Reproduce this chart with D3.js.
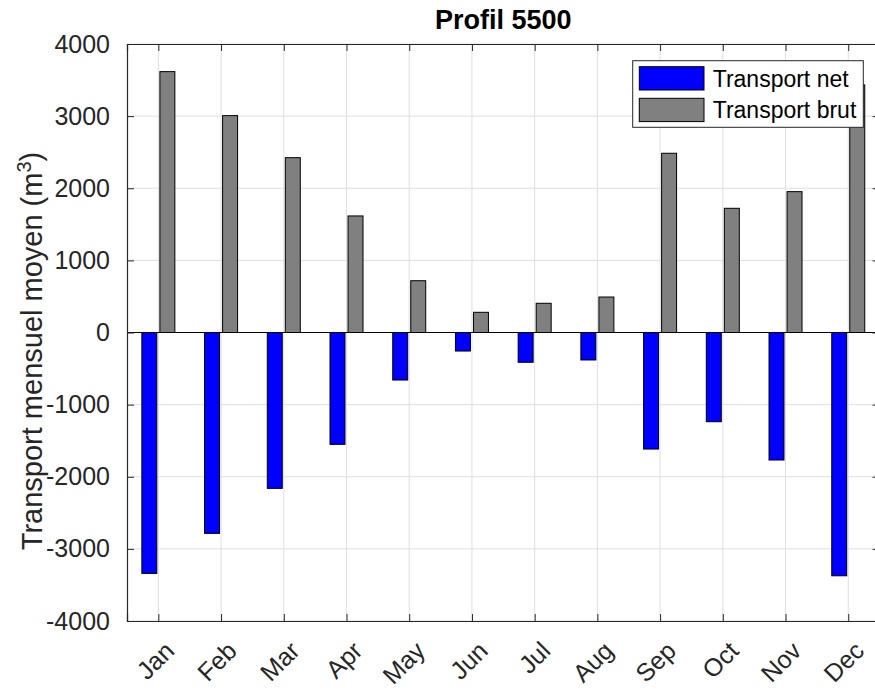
<!DOCTYPE html>
<html>
<head>
<meta charset="utf-8">
<script src="https://cdn.jsdelivr.net/npm/d3@7"></script>
<style>
  html, body { margin: 0; padding: 0; background: #fff; }
  svg { display: block; font-family: "Liberation Sans", Arial, Helvetica, sans-serif; }
</style>
</head>
<body>
<svg id="chart" width="875" height="691"></svg>
<script>
// Monthly mean transport, profile 5500
const months = ["Jan", "Feb", "Mar", "Apr", "May", "Jun", "Jul", "Aug", "Sep", "Oct", "Nov", "Dec"];
const transportNet = [-3340, -2785, -2161, -1551, -659, -257, -413, -381, -1616, -1237, -1768, -3373];
const transportBrut = [3617, 3007, 2424, 1616, 718, 280, 405, 492, 2485, 1722, 1953, 3433];
const seriesNames = ["Transport net", "Transport brut"];
const seriesColors = ["#0000ff", "#808080"];
const yTicks = [-4000, -3000, -2000, -1000, 0, 1000, 2000, 3000, 4000];

const svg = d3.select("#chart");
const plot = { left: 127, top: 44, right: 879.6, bottom: 621 };
const axisColor = "#262626";
const gridColor = "#dfdfdf";

const x = d3.scalePoint().domain(months).range([plot.left, plot.right]).padding(0.5);
const xSeries = d3.scaleBand().domain(seriesNames).range([-16.5, 16.5]).paddingInner(0.17);
const y = d3.scaleLinear().domain([-4000, 4000]).range([plot.bottom, plot.top]);

// grid
const grid = svg.append("g");
grid.selectAll("line.gx").data(months).join("line")
  .attr("x1", d => x(d)).attr("x2", d => x(d))
  .attr("y1", plot.top).attr("y2", plot.bottom)
  .attr("stroke", gridColor).attr("stroke-width", 1);
grid.selectAll("line.gy").data(yTicks).join("line")
  .attr("x1", plot.left).attr("x2", plot.right)
  .attr("y1", d => y(d)).attr("y2", d => y(d))
  .attr("stroke", gridColor).attr("stroke-width", 1);

// bars
const rows = months.map((m, i) => ({ month: m, values: [transportNet[i], transportBrut[i]] }));
const groups = svg.append("g").selectAll("g").data(rows).join("g")
  .attr("transform", d => `translate(${x(d.month)},0)`);
groups.selectAll("rect").data(d => d.values.map((v, k) => ({ v, k }))).join("rect")
  .attr("x", d => xSeries(seriesNames[d.k]))
  .attr("width", xSeries.bandwidth())
  .attr("y", d => y(Math.max(0, d.v)))
  .attr("height", d => Math.abs(y(d.v) - y(0)))
  .attr("fill", d => seriesColors[d.k])
  .attr("stroke", "#000").attr("stroke-width", 1);

// baseline at zero
svg.append("line")
  .attr("x1", plot.left).attr("x2", plot.right)
  .attr("y1", y(0)).attr("y2", y(0))
  .attr("stroke", "#000").attr("stroke-width", 1.2);

// axes (ticks pointing inward)
const tickLen = 7;
const yAxis = svg.append("g").attr("transform", `translate(${plot.left},0)`)
  .call(d3.axisLeft(y).tickValues(yTicks).tickSize(-tickLen).tickPadding(10 + tickLen).tickFormat(d => String(d)));
const xAxis = svg.append("g").attr("transform", `translate(0,${plot.bottom})`)
  .call(d3.axisBottom(x).tickSize(-tickLen).tickFormat(""));
const xTop = svg.append("g").attr("transform", `translate(0,${plot.top})`)
  .call(d3.axisTop(x).tickSize(-tickLen).tickFormat(""));
const yRight = svg.append("g").attr("transform", `translate(${plot.right},0)`)
  .call(d3.axisRight(y).tickValues(yTicks).tickSize(-tickLen).tickFormat(""));
[yAxis, xAxis, xTop, yRight].forEach(g => {
  g.selectAll("path").attr("stroke", axisColor).attr("stroke-width", 1.2);
  g.selectAll("line").attr("stroke", axisColor);
});
yAxis.selectAll("text")
  .attr("fill", axisColor).style("font-size", "25px");

// rotated month labels
svg.append("g").selectAll("text").data(months).join("text")
  .attr("transform", d => `translate(${x(d) + 5},${plot.bottom + 19}) rotate(-45)`)
  .attr("text-anchor", "end")
  .attr("dy", "0.7em")
  .attr("fill", axisColor)
  .style("font-size", "25px")
  .text(d => d);

// title
svg.append("text")
  .attr("x", (plot.left + plot.right) / 2).attr("y", 29)
  .attr("text-anchor", "middle")
  .style("font-size", "27px").style("font-weight", "bold")
  .attr("fill", "#000")
  .text("Profil 5500");

// y label
const yl = svg.append("text")
  .attr("transform", `translate(41.5,${351}) rotate(-90)`)
  .attr("text-anchor", "middle")
  .attr("fill", axisColor)
  .style("font-size", "29px");
yl.append("tspan").text("Transport mensuel moyen (m");
yl.append("tspan").attr("dy", "-0.55em").style("font-size", "20px").text("3");
yl.append("tspan").attr("dy", "0.37em").text(")");

// legend
const leg = svg.append("g").attr("transform", "translate(632.7,60.7)");
leg.append("rect").attr("width", 230.6).attr("height", 66.6)
  .attr("fill", "#fff").attr("stroke", "#262626").attr("stroke-width", 1);
seriesNames.forEach((name, k) => {
  const row = leg.append("g").attr("transform", `translate(6.6,${6 + k * 31.6})`);
  row.append("rect").attr("width", 64.7).attr("height", 23.3)
    .attr("fill", seriesColors[k]).attr("stroke", "#000").attr("stroke-width", 1);
  row.append("text").attr("x", 73.4).attr("y", 11.6).attr("dy", "0.36em")
    .style("font-size", "23px").attr("fill", "#000").text(name);
});
</script>
</body>
</html>
